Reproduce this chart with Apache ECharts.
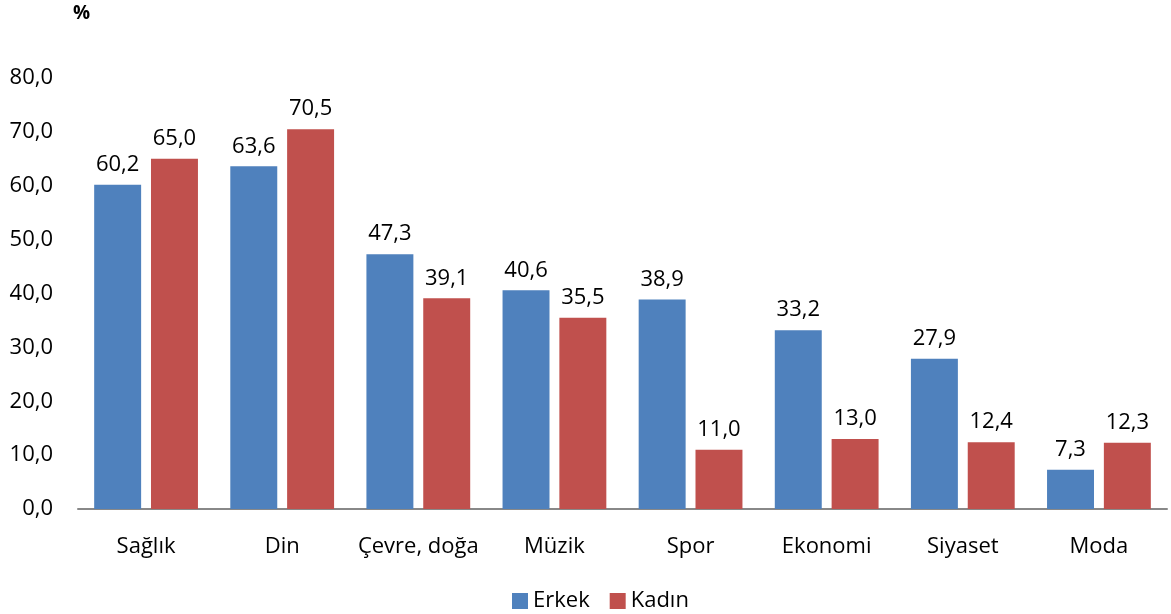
<!DOCTYPE html>
<html><head><meta charset="utf-8">
<script src="https://cdn.jsdelivr.net/npm/echarts@6/dist/echarts.min.js"></script>
<style>html,body{margin:0;padding:0;background:#fff}#c{width:1171px;height:614px}</style>
</head><body><div id="c"></div>
<script>
const categories = ['Sağlık','Din','Çevre, doğa','Müzik','Spor','Ekonomi','Siyaset','Moda'];
const erkek = [60.2,63.6,47.3,40.6,38.9,33.2,27.9,7.3];
const kadin = [65.0,70.5,39.1,35.5,11.0,13.0,12.4,12.3];
const seriesNames = ['Erkek','Kadın'];
const FONT = '"Open Sans", "Noto Sans", sans-serif';
const fmt = v => v.toFixed(1).replace('.', ',');
const chart = echarts.init(document.getElementById('c'));
const labelCfg = {show:true, position:'top', distance:9, color:'#000', fontFamily:FONT, fontSize:22, formatter:p=>fmt(p.value)};
chart.setOption({
  animation:false,
  textStyle:{fontFamily:FONT},
  graphic:[{type:'text', left:73, top:4, style:{text:'%', font:'bold 19px '+FONT, fill:'#000'}}],
  legend:{bottom:-3, left:507, itemWidth:16, itemHeight:16, itemGap:20, icon:'rect',
    textStyle:{fontSize:22, color:'#000', fontFamily:FONT}, data:seriesNames},
  grid:{left:78, right:4, top:78, bottom:105, containLabel:false},
  xAxis:{type:'category', data:categories,
    axisLine:{lineStyle:{color:'#888', width:2}}, axisTick:{show:false},
    axisLabel:{color:'#000', fontSize:22, margin:27, fontFamily:FONT, interval:0}},
  yAxis:{type:'value', min:0, max:80, interval:10,
    axisLine:{show:false}, axisTick:{show:false}, splitLine:{show:false},
    axisLabel:{color:'#000', fontSize:22, margin:25, fontFamily:FONT, formatter:v=>fmt(v)}},
  series:[
    {name:seriesNames[0], type:'bar', data:erkek, barWidth:'34.5%', barGap:'21%', itemStyle:{color:'#4F81BD'}, label:labelCfg},
    {name:seriesNames[1], type:'bar', data:kadin, barWidth:'34.5%', barGap:'21%', itemStyle:{color:'#C0504D'}, label:labelCfg}
  ]
});
</script></body></html>
